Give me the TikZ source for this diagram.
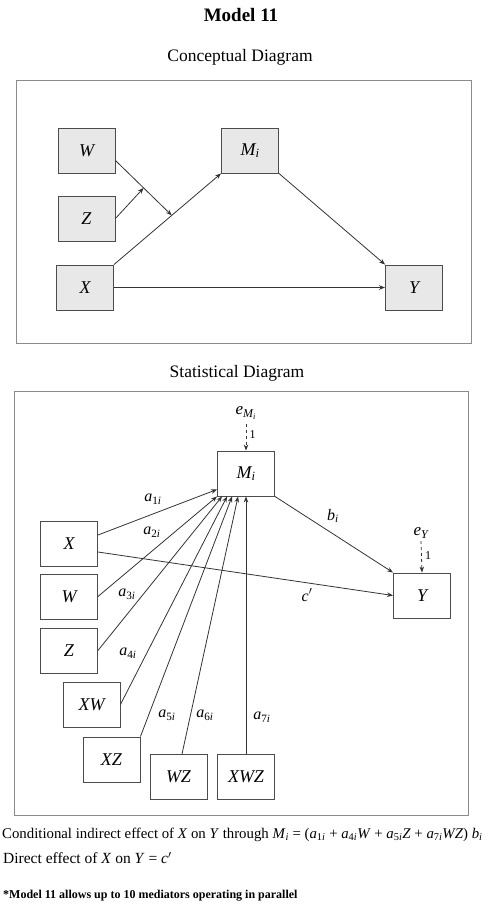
\documentclass[tikz,border=0pt]{standalone}
\usepackage{fontspec}
\setmainfont{Liberation Serif}
\usetikzlibrary{arrows.meta, calc}
\definecolor{framegray}{HTML}{8A8A8A}
\definecolor{boxgray}{HTML}{E8E8E8}
\definecolor{linegray}{HTML}{333333}
\newcommand{\coef}[2]{\textit{#1}\textsubscript{#2}}

\tikzset{
  varbox/.style={rectangle, draw=black!70, line width=0.9pt, minimum width=57pt, minimum height=45pt, inner sep=0pt, font=\fontsize{18}{20}\selectfont\itshape},
  conbox/.style={varbox, fill=boxgray},
  effect/.style={-{Stealth[length=6pt,width=4.5pt]}, draw=linegray, line width=0.8pt},
  errarrow/.style={effect, dashed},
  coeflabel/.style={font=\fontsize{16}{18}\selectfont},
  unitlabel/.style={font=\fontsize{12}{14}\selectfont},
}

\begin{document}
\begin{tikzpicture}[x=1pt, y=-1pt]
\useasboundingbox (0,0) rectangle (487,904);

% Titles
\node[font=\fontsize{19}{22}\selectfont\bfseries] (title) at (241,15) {Model 11};
\node[font=\fontsize{17.5}{20}\selectfont] (contitle) at (240,57) {Conceptual Diagram};
\node[font=\fontsize{17.5}{20}\selectfont] (stattitle) at (237,373) {Statistical Diagram};

% Frames
\draw[framegray, line width=0.9pt] (16,80) rectangle (471,343);
\draw[framegray, line width=0.9pt] (14,391) rectangle (468,815);

% Conceptual diagram
\node[conbox] (cW) at (86.5,150.5) {W};
\node[conbox] (cZ) at (86.5,218.5) {Z};
\node[conbox] (cX) at (85,287.5) {X};
\node[conbox] (cM) at (250,150.5) {M\textsubscript{i}};
\node[conbox] (cY) at (414,287.5) {Y};

\coordinate (cmod1) at ($(cX.north east)!0.54!(cM.south west)$);
\coordinate (cWout) at ([yshift=-10pt]cW.east);
\coordinate (cmod2) at ($(cWout)!0.5!(cmod1)$);

\draw[effect] (cX.north east) -- (cM.south west);
\draw[effect] (cWout) -- (cmod1);
\draw[effect] (cZ.east) -- (cmod2);
\draw[effect] (cM.south east) -- (cY.north west);
\draw[effect] (cX.east) -- (cY.west);

% Statistical diagram
\node[varbox] (sM) at (246,473.5) {M\textsubscript{i}};
\node[varbox] (sX) at (69,544) {X};
\node[varbox] (sW) at (69,596.5) {W};
\node[varbox] (sZ) at (69,650.5) {Z};
\node[varbox] (sXW) at (91.5,704.5) {XW};
\node[varbox] (sXZ) at (111.5,759.5) {XZ};
\node[varbox] (sWZ) at (178.5,777) {WZ};
\node[varbox] (sXWZ) at (246,777) {XWZ};
\node[varbox] (sY) at (422,595.5) {Y};

% error terms
\node[font=\fontsize{17}{19}\selectfont\itshape] (eM) at (246,413) {e\textsubscript{M\textsubscript{i}}};
\node[font=\fontsize{17}{19}\selectfont\itshape] (eY) at (421,533) {e\textsubscript{Y}};
\draw[errarrow] ([yshift=-11pt]eM.center) -- node[unitlabel, right, pos=0.4] {1} (sM.north);
\draw[errarrow] ([yshift=-8pt]eY.center) -- node[unitlabel, right, pos=0.45] {1} (sY.north);

% paths into M
\draw[effect] ([yshift=9pt]sX.east) -- ([yshift=7pt]sM.south west);
\draw[effect] (sW.east) -- (sM.south west);
\draw[effect] (sZ.east) -- ([xshift=5pt]sM.south west);
\draw[effect] (sXW.east) -- ([xshift=10pt]sM.south west);
\draw[effect] (sXZ.north east) -- ([xshift=15pt]sM.south west);
\draw[effect] ([xshift=3.5pt]sWZ.north) -- ([xshift=21pt]sM.south west);
\draw[effect] (sXWZ.north) -- (sM.south);

% paths into Y
\draw[effect] (sM.south east) -- (sY.north west);
\draw[effect] ([yshift=-8pt]sX.east) -- (sY.west);

% coefficient labels
\node[coeflabel] (la1) at (153,499) {\coef{a}{1\textit{i}}};
\node[coeflabel] (la2) at (152,532) {\coef{a}{2\textit{i}}};
\node[coeflabel] (la3) at (127,594) {\coef{a}{3\textit{i}}};
\node[coeflabel] (la4) at (128,653) {\coef{a}{4\textit{i}}};
\node[coeflabel] (la5) at (167,715) {\coef{a}{5\textit{i}}};
\node[coeflabel] (la6) at (205,715) {\coef{a}{6\textit{i}}};
\node[coeflabel] (la7) at (262,717) {\coef{a}{7\textit{i}}};
\node[coeflabel] (lb) at (333,516) {\coef{b}{\textit{i}}};
\node[coeflabel] (lc) at (307,595) {\textit{c}$'$};

% Effects text
\node[anchor=west, inner sep=0pt, font=\fontsize{14.8}{18}\selectfont] (indirect) at (2,835) {Conditional indirect effect of \textit{X} on \textit{Y} through \coef{M}{\textit{i}} = (\coef{a}{1\textit{i}} + \coef{a}{4\textit{i}}\textit{W} + \coef{a}{5\textit{i}}\textit{Z} + \coef{a}{7\textit{i}}\textit{WZ}) \coef{b}{\textit{i}}};
\node[anchor=west, inner sep=0pt, font=\fontsize{15.5}{18}\selectfont] (direct) at (3,858) {Direct effect of \textit{X} on \textit{Y} = \textit{c}$'$};
\node[anchor=west, inner sep=0pt, font=\fontsize{12}{14}\selectfont\bfseries] (note) at (3,896) {*Model 11 allows up to 10 mediators operating in parallel};
\end{tikzpicture}
\end{document}
